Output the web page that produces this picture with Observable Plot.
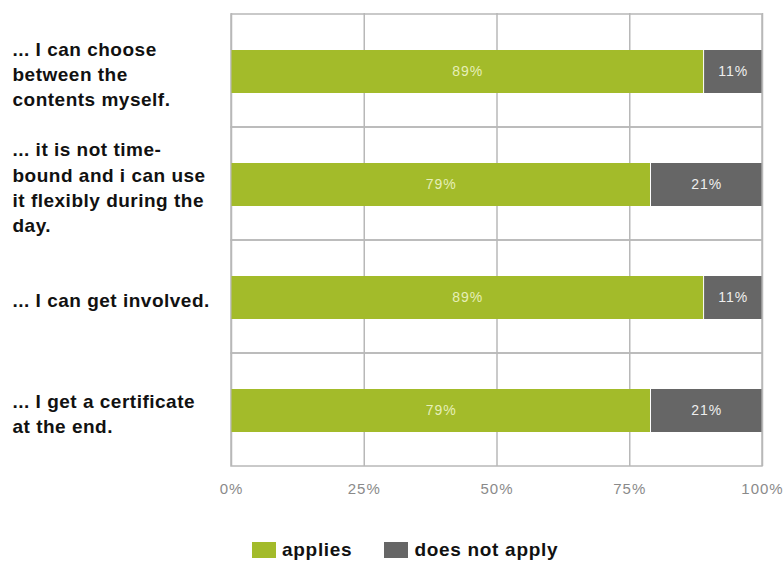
<!DOCTYPE html>
<html>
<head>
<meta charset="utf-8">
<script src="https://cdn.jsdelivr.net/npm/d3@7"></script>
<script src="https://cdn.jsdelivr.net/npm/@observablehq/plot@0.6"></script>
<style>
  html, body { margin: 0; padding: 0; background: #fff; }
  #chart { width: 784px; height: 561px; position: relative; overflow: hidden; font-family: "Liberation Sans", Arial, sans-serif; }
  #chart svg [aria-label="y-axis tick label"] text { letter-spacing: 0.5px; }
  #chart svg [aria-label="x-axis tick label"] text { letter-spacing: 1px; }
  #chart svg [aria-label="text"] text { letter-spacing: 1px; }
  .legend { position: absolute; left: 252px; top: 539px; display: flex; align-items: center; font-weight: bold; font-size: 19px; letter-spacing: 0.7px; color: #111; }
  .legend .item { display: flex; align-items: center; margin-right: 32px; }
  .legend .sw { width: 24px; height: 16px; margin-right: 6px; }
</style>
</head>
<body>
<div id="chart"></div>
<script>
const categories = [
  "... I can choose between the contents myself.",
  "... it is not time-bound and i can use it flexibly during the day.",
  "... I can get involved.",
  "... I get a certificate at the end."
];
const categoryLabels = [
  "... I can choose\nbetween the\ncontents myself.",
  "... it is not time-\nbound and i can use\nit flexibly during the\nday.",
  "... I can get involved.",
  "... I get a certificate\nat the end."
];
const series = ["applies", "does not apply"];
const applies = [89, 79, 89, 79];
const doesNotApply = [11, 21, 11, 21];
const xTicks = [0, 25, 50, 75, 100];
const colors = ["#a3bb2a", "#666666"];
const labelColors = ["#e6efb8", "#eeeeee"];

const rows = [];
categories.forEach((c, i) => {
  rows.push({category: c, response: series[0], value: applies[i]});
  rows.push({category: c, response: series[1], value: doesNotApply[i]});
});
const labelOf = new Map(categories.map((c, i) => [c, categoryLabels[i]]));
const textColorOf = new Map(series.map((s, i) => [s, labelColors[i]]));

const plot = Plot.plot({
  width: 784,
  height: 505,
  marginLeft: 231,
  marginRight: 22,
  marginTop: 13,
  marginBottom: 39,
  style: {fontFamily: "Liberation Sans, Arial, sans-serif", background: "#fff"},
  x: {domain: [0, 100], label: null},
  y: {domain: categories, padding: 0, label: null},
  color: {domain: series, range: colors},
  marks: [
    Plot.ruleX(xTicks, {stroke: "#b8b8b8", strokeWidth: 1.5}),
    Plot.barX(categories, {y: d => d, x1: 0, x2: 100, fill: "none", stroke: "#b8b8b8", strokeWidth: 1.5}),
    Plot.barX(rows, Plot.stackX({x: "value", y: "category", fill: "response", insetTop: 36, insetBottom: 34, insetLeft: 0.5, insetRight: 0.5})),
    Plot.text(rows, Plot.stackX({x: "value", y: "category", text: d => d.value + "%", fill: d => textColorOf.get(d.response), fontSize: 14, dy: 1})),
    Plot.axisX(xTicks, {tickSize: 0, tickPadding: 17, tickFormat: d => d + "%", fontSize: 15, fill: "#8a8a8a", label: null}),
    Plot.axisY({tickSize: 0, tickPadding: 0, textAnchor: "start", dx: -219, dy: 2, tickFormat: d => labelOf.get(d), fontSize: 19, fontWeight: "bold", fill: "#111", lineHeight: 1.32, label: null})
  ]
});

const chart = document.getElementById("chart");
chart.appendChild(plot);

const legend = document.createElement("div");
legend.className = "legend";
series.forEach((s, i) => {
  const item = document.createElement("div");
  item.className = "item";
  const sw = document.createElement("div");
  sw.className = "sw";
  sw.style.background = colors[i];
  const t = document.createElement("span");
  t.textContent = s;
  item.appendChild(sw);
  item.appendChild(t);
  legend.appendChild(item);
});
chart.appendChild(legend);
</script>
</body>
</html>
